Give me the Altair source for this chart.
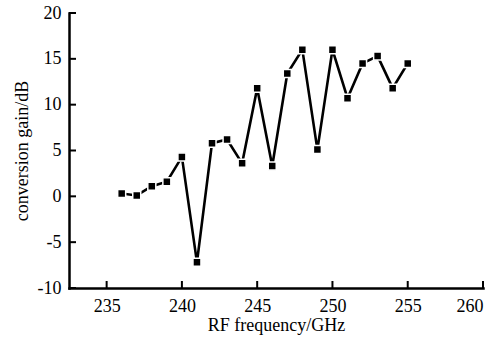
import altair as alt
import pandas as pd

freq = [236, 237, 238, 239, 240, 241, 242, 243, 244, 245,
        246, 247, 248, 249, 250, 251, 252, 253, 254, 255]
gain = [0.3, 0.1, 1.1, 1.6, 4.3, -7.2, 5.8, 6.2, 3.6, 11.8,
        3.3, 13.4, 16.0, 5.1, 16.0, 10.7, 14.5, 15.3, 11.8, 14.5]
x_ticks = [235, 240, 245, 250, 255, 260]
y_ticks = [-10, -5, 0, 5, 10, 15, 20]
x_min, x_max = 232.5, 260
y_min, y_max = -10, 20

W, H = 414, 275
FONT = "Liberation Serif"

df = pd.DataFrame({"freq": freq, "gain": gain})
xt = pd.DataFrame({"v": x_ticks})
yt = pd.DataFrame({"v": y_ticks})

xscale = alt.Scale(domain=[x_min, x_max], nice=False, zero=False)
yscale = alt.Scale(domain=[y_min, y_max], nice=False, zero=False)

xaxis = alt.Axis(values=x_ticks, title="RF frequency/GHz", labelPadding=9, titlePadding=1)
yaxis = alt.Axis(values=y_ticks, title="conversion gain/dB", labelPadding=8, titlePadding=6)

line = alt.Chart(df).mark_line(color="#000000", strokeWidth=2.6).encode(
    x=alt.X("freq:Q", scale=xscale, axis=xaxis),
    y=alt.Y("gain:Q", scale=yscale, axis=yaxis),
)
pts = alt.Chart(df).mark_square(color="#000000", size=64, opacity=1, stroke="white",
                                strokeWidth=1.5).encode(
    x=alt.X("freq:Q", scale=xscale),
    y=alt.Y("gain:Q", scale=yscale),
)
xtick = alt.Chart(xt).mark_rule(color="#000000", strokeWidth=2).encode(
    x=alt.X("v:Q", scale=xscale),
    y=alt.value(H),
    y2=alt.value(H - 7),
)
ytick = alt.Chart(yt).mark_rule(color="#000000", strokeWidth=2).encode(
    y=alt.Y("v:Q", scale=yscale),
    x=alt.value(0),
    x2=alt.value(7),
)

chart = alt.layer(line, pts, xtick, ytick).properties(
    width=W, height=H,
    autosize=alt.AutoSizeParams(type="none"),
    padding={"left": 69, "top": 13, "right": 16, "bottom": 53},
).configure(background="white").configure_view(stroke=None).configure_axis(
    grid=False, ticks=False, domain=True, domainColor="#000000", domainWidth=2.5,
    domainCap="square",
    labelFont=FONT, labelFontSize=18, labelColor="black",
    titleFont=FONT, titleFontSize=18, titleFontWeight="normal",
    titleColor="black", labelExpr="toString(datum.value)")

chart.save("out.html", embed_options={"renderer": "svg", "actions": False})
